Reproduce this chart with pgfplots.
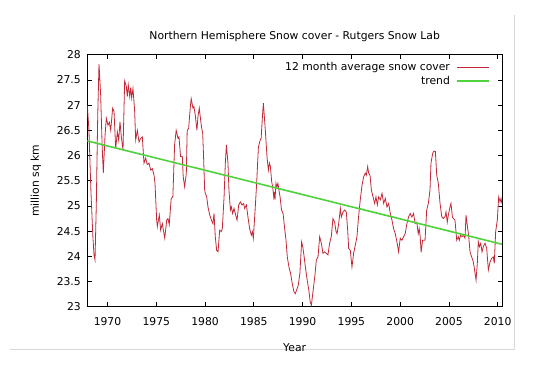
\documentclass[border=0pt]{standalone}
\usepackage{pgfplots}
\pgfplotsset{compat=1.18}
\usepackage{fontspec}
\setmainfont{DejaVu Sans}
\newcommand\ff{\fontsize{10.8bp}{13bp}\selectfont}
\definecolor{snowred}{RGB}{195,40,55}
\definecolor{trendgreen}{RGB}{80,210,60}
\begin{document}
\begin{tikzpicture}[font=\ff]
\path[use as bounding box] (0,0) rectangle (533bp,368bp);
\draw[black!15, line width=1bp] (514.7bp,353bp) -- (514.7bp,18bp) -- (10bp,18bp);
\begin{axis}[
  at={(87.3bp,61.2bp)}, anchor=south west,
  scale only axis, width=414.7bp, height=252.1bp,
  xmin=1967.93, xmax=2010.44, ymin=23, ymax=28,
  xtick={1970,1975,...,2010},
  ytick={23,23.5,...,28},
  tick align=inside, major tick length=4.5bp,
  axis line style={line width=0.8bp},
  every tick/.style={black, line width=0.8bp},
  /pgf/number format/assume math mode=true,
  xticklabel style={/pgf/number format/1000 sep={}, anchor=base, yshift=-19bp, font=\ff},
  yticklabel style={anchor=east, inner sep=0pt, xshift=-6.3bp, font=\ff},
  title={Northern Hemisphere Snow cover - Rutgers Snow Lab},
  title style={at={(axis description cs:0.5,1)}, anchor=base, yshift=9.7bp, font=\ff},
  xlabel={Year},
  xlabel style={at={(axis description cs:0.5,0)}, anchor=base, yshift=-44.3bp, font=\ff},
  ylabel={million sq km},
  ylabel style={at={(axis description cs:-0.1237,0.5)}, anchor=center, font=\ff},
  legend plot pos=right,
  legend cell align=right,
  legend image code/.code={\draw[#1] (0bp,0bp) -- (31.7bp,0bp);},
  legend style={draw=none, fill=none, at={(1,1)}, anchor=north east,
     xshift=-12bp, yshift=-7.3bp, inner sep=0pt, row sep=4bp,
     column sep=6.6bp, font=\ff, nodes={inner sep=0pt}},
]
\addplot[snowred, line width=0.8bp] coordinates {
(1967.93,27.00) (1968.10,26.50) (1968.30,25.30) (1968.50,24.40) (1968.62,24.02)
(1968.72,23.93) (1968.85,25.00) (1969.00,26.80) (1969.13,27.82) (1969.30,27.20)
(1969.45,26.20) (1969.57,25.65) (1969.75,26.40) (1969.88,26.74) (1970.05,26.60)
(1970.19,26.66) (1970.33,26.50) (1970.53,26.94) (1970.67,26.87) (1970.84,26.14)
(1971.01,26.47) (1971.15,26.30) (1971.28,26.67) (1971.42,26.37) (1971.59,26.11)
(1971.76,27.48) (1971.93,27.37) (1972.03,27.17) (1972.13,27.40) (1972.28,27.17)
(1972.38,27.35) (1972.48,27.14) (1972.61,27.33) (1972.78,26.90) (1972.89,26.31)
(1973.06,26.50) (1973.23,26.27) (1973.40,26.34) (1973.57,26.37) (1973.74,25.85)
(1973.91,25.95) (1974.08,25.82) (1974.25,25.85) (1974.43,25.71) (1974.60,25.74)
(1974.77,25.61) (1974.87,25.45) (1975.04,24.72) (1975.11,24.59) (1975.31,24.82)
(1975.45,24.52) (1975.62,24.65) (1975.87,24.36) (1976.07,24.72) (1976.20,24.75)
(1976.33,24.63) (1976.53,25.15) (1976.70,25.18) (1976.88,26.21) (1977.04,26.50)
(1977.23,26.34) (1977.33,26.37) (1977.49,25.98) (1977.67,25.98) (1977.76,25.58)
(1977.91,25.38) (1978.08,25.65) (1978.17,26.50) (1978.32,26.54) (1978.48,26.94)
(1978.58,27.13) (1978.76,26.94) (1978.86,26.97) (1979.00,26.80) (1979.17,26.50)
(1979.27,26.77) (1979.41,26.94) (1979.55,26.70) (1979.66,26.54) (1979.76,26.44)
(1979.86,25.91) (1979.96,25.32) (1980.03,25.25) (1980.17,25.18) (1980.30,24.98)
(1980.48,24.82) (1980.65,24.72) (1980.81,24.65) (1980.92,24.85) (1981.05,24.39)
(1981.19,24.12) (1981.33,24.09) (1981.50,24.52) (1981.67,24.49) (1981.77,24.55)
(1981.95,25.18) (1982.08,25.85) (1982.19,26.21) (1982.35,25.85) (1982.45,25.32)
(1982.60,24.92) (1982.70,24.98) (1982.83,24.85) (1982.97,24.95) (1983.10,24.85)
(1983.28,24.72) (1983.45,25.02) (1983.62,25.08) (1983.79,25.02) (1983.96,25.05)
(1984.06,24.95) (1984.24,25.02) (1984.40,24.78) (1984.57,24.55) (1984.74,24.42)
(1984.85,24.49) (1984.95,24.36) (1985.15,24.98) (1985.29,25.45) (1985.47,26.17)
(1985.66,26.31) (1985.75,26.34) (1985.88,26.77) (1985.98,27.04) (1986.18,26.50)
(1986.35,25.98) (1986.49,25.71) (1986.60,25.85) (1986.70,25.78) (1986.83,25.48)
(1986.93,25.38) (1987.04,25.18) (1987.10,25.28) (1987.17,25.12) (1987.27,25.45)
(1987.37,25.38) (1987.47,25.45) (1987.57,25.32) (1987.69,25.18) (1987.84,24.92)
(1988.00,24.85) (1988.18,24.52) (1988.30,24.32) (1988.43,23.99) (1988.60,23.79)
(1988.77,23.66) (1988.94,23.46) (1989.11,23.30) (1989.25,23.26) (1989.38,23.33)
(1989.55,23.42) (1989.72,23.66) (1989.90,24.29) (1990.02,24.19) (1990.16,23.99)
(1990.33,23.72) (1990.47,23.53) (1990.64,23.33) (1990.78,23.10) (1990.90,23.03)
(1991.04,23.26) (1991.25,23.60) (1991.41,23.93) (1991.58,23.99) (1991.75,24.39)
(1991.92,24.26) (1992.09,24.06) (1992.26,24.09) (1992.43,24.06) (1992.60,24.03)
(1992.77,24.26) (1992.94,24.39) (1993.11,24.75) (1993.28,24.68) (1993.43,24.49)
(1993.53,24.45) (1993.70,24.65) (1993.87,24.95) (1993.97,24.78) (1994.14,24.88)
(1994.31,24.92) (1994.48,24.88) (1994.62,24.52) (1994.72,24.16) (1994.89,24.12)
(1995.06,23.79) (1995.23,24.06) (1995.40,24.22) (1995.57,24.39) (1995.74,24.79)
(1995.91,25.12) (1996.09,25.41) (1996.26,25.58) (1996.43,25.65) (1996.53,25.61)
(1996.67,25.78) (1996.77,25.65) (1996.91,25.61) (1997.05,25.32) (1997.22,25.18)
(1997.39,25.05) (1997.52,25.18) (1997.66,25.02) (1997.80,25.18) (1997.97,25.12)
(1998.14,25.25) (1998.31,25.05) (1998.48,25.15) (1998.65,24.98) (1998.82,25.05)
(1998.99,24.85) (1999.16,24.72) (1999.33,24.55) (1999.50,24.45) (1999.67,24.29)
(1999.84,24.09) (2000.01,24.36) (2000.18,24.32) (2000.35,24.39) (2000.52,24.45)
(2000.69,24.65) (2000.86,24.78) (2001.03,24.85) (2001.20,24.78) (2001.37,24.85)
(2001.54,24.65) (2001.71,24.68) (2001.85,24.45) (2001.95,24.55) (2002.05,24.40)
(2002.15,24.08) (2002.30,24.32) (2002.55,24.32) (2002.72,24.92) (2002.89,25.05)
(2003.06,25.32) (2003.16,25.85) (2003.34,26.05) (2003.47,26.09) (2003.61,26.08)
(2003.75,25.61) (2003.91,25.45) (2004.09,25.05) (2004.26,24.79) (2004.42,24.75)
(2004.60,24.79) (2004.70,24.88) (2004.83,24.68) (2004.94,24.82) (2005.11,24.98)
(2005.21,25.05) (2005.35,24.79) (2005.45,24.75) (2005.62,24.72) (2005.80,24.32)
(2005.96,24.39) (2006.06,24.32) (2006.20,24.42) (2006.34,24.39) (2006.47,24.42)
(2006.65,24.36) (2006.75,24.82) (2006.88,24.62) (2007.03,24.39) (2007.16,24.09)
(2007.33,23.99) (2007.50,23.89) (2007.64,23.72) (2007.78,23.53) (2007.91,23.86)
(2008.01,24.29) (2008.12,24.19) (2008.26,24.26) (2008.39,24.09) (2008.52,24.19)
(2008.70,24.26) (2008.87,24.16) (2009.04,23.73) (2009.21,23.89) (2009.38,23.96)
(2009.55,23.99) (2009.65,23.86) (2009.79,24.49) (2009.96,24.72) (2010.10,25.18)
(2010.24,25.08) (2010.34,25.15) (2010.42,25.05)
};
\addlegendentry{12 month average snow cover}
\addplot[trendgreen, line width=1.6bp] coordinates {(1967.93,26.29) (2010.44,24.24)};
\addlegendentry{trend}
\end{axis}
\end{tikzpicture}
\end{document}
